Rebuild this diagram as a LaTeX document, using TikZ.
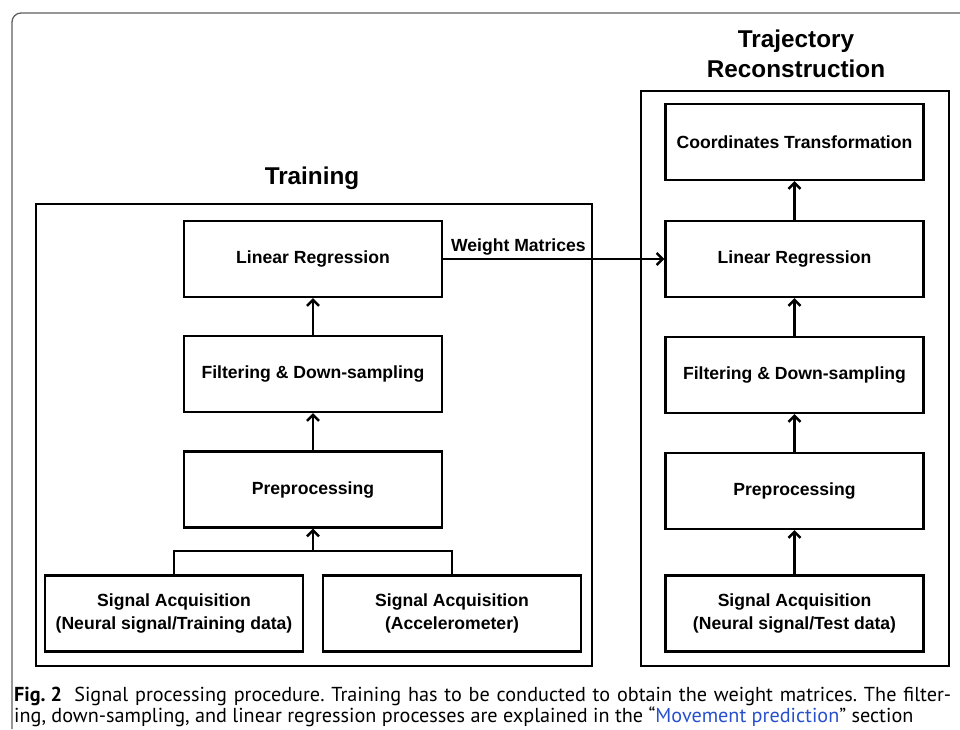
\documentclass[tikz,border=0pt]{standalone}
\usepackage{fontspec}
\setmainfont{Liberation Sans}
\newfontfamily\capfont[Ligatures=TeX]{PT Sans}
\usetikzlibrary{arrows.meta, positioning, calc}
\definecolor{cornice}{RGB}{95,95,95}
\definecolor{collegamento}{RGB}{40,80,205}
\frenchspacing

\begin{document}
\begin{tikzpicture}[
  x=1pt, y=-1pt,
  blocco/.style={draw=black, line width=2.4pt, minimum width=258pt, minimum height=76pt,
                 align=center, font=\fontsize{17.6}{23}\selectfont\bfseries, inner sep=2pt},
  gruppo/.style={draw=black, line width=2.4pt},
  titolo/.style={align=center, font=\fontsize{24.3}{30}\selectfont\bfseries},
  freccia/.style={draw=black, line width=2.4pt, -{Straight Barb[length=6pt,width=12pt,line width=2.4pt]}},
  linea/.style={draw=black, line width=2.4pt},
  didascalia/.style={anchor=base west, inner sep=0pt, font=\capfont\fontsize{20.2}{22}\selectfont}
]
\useasboundingbox (0,0) rectangle (960,729);

% ---- cornice generale -------------------------------------------------
\draw[cornice, line width=1.3pt, rounded corners=9pt] (12,729) -- (12,13) -- (962,13);

%==============================================================
% Training
%==============================================================
\draw[gruppo] (36,204) rectangle (592,666);
\node[titolo] (titTrain) at (312,178) {Training};

\node[blocco] (linL)  at (313,259)   {Linear Regression};
\node[blocco] (filL)  at (313,374)   {Filtering \& Down-sampling};
\node[blocco] (preL)  at (313,489.5) {Preprocessing};
\node[blocco] (acqN)  at (174,613.5) {Signal Acquisition\\(Neural signal/Training data)};
\node[blocco] (acqA)  at (452,613.5) {Signal Acquisition\\(Accelerometer)};

\coordinate (giunto) at ($(preL.south)+(0,22)$);
\draw[linea] (acqN.north) |- (giunto) -| (acqA.north);
\draw[freccia] (giunto) -- (preL.south);
\draw[freccia] (preL.north) -- (filL.south);
\draw[freccia] (filL.north) -- (linL.south);

%==============================================================
% Trajectory Reconstruction
%==============================================================
\draw[gruppo] (641,91) rectangle (949,666);
\node[titolo] (titTraj) at (796,54) {Trajectory\\Reconstruction};

\node[blocco] (coordR) at (794.5,142)   {Coordinates Transformation};
\node[blocco] (linR)   at (794.5,259)   {Linear Regression};
\node[blocco] (filR)   at (794.5,375)   {Filtering \& Down-sampling};
\node[blocco] (preR)   at (794.5,491)   {Preprocessing};
\node[blocco] (acqR)   at (794.5,613.5) {Signal Acquisition\\(Neural signal/Test data)};

\draw[freccia] (acqR.north) -- (preR.south);
\draw[freccia] (preR.north) -- (filR.south);
\draw[freccia] (filR.north) -- (linR.south);
\draw[freccia] (linR.north) -- (coordR.south);

% pesi dal training alla ricostruzione
\draw[freccia] (linL.east) -- node[above, pos=0.34, font=\fontsize{17.6}{20}\selectfont\bfseries, inner sep=3pt] (pesi) {Weight Matrices} (linR.west);

% ---- didascalia -------------------------------------------------------
\node[didascalia] (cap1) at (14,701)
  {\makebox[937pt][s]{\textbf{Fig.\kern0.25em2}\kern0.6em Signal processing procedure. Training has to be conducted to obtain the weight matrices. The filter-}};
\node[didascalia] (cap2) at (14,722)
  {ing, down-sampling, and linear regression processes are explained in the “\textcolor{collegamento}{Movement prediction}” section};

\end{tikzpicture}
\end{document}
